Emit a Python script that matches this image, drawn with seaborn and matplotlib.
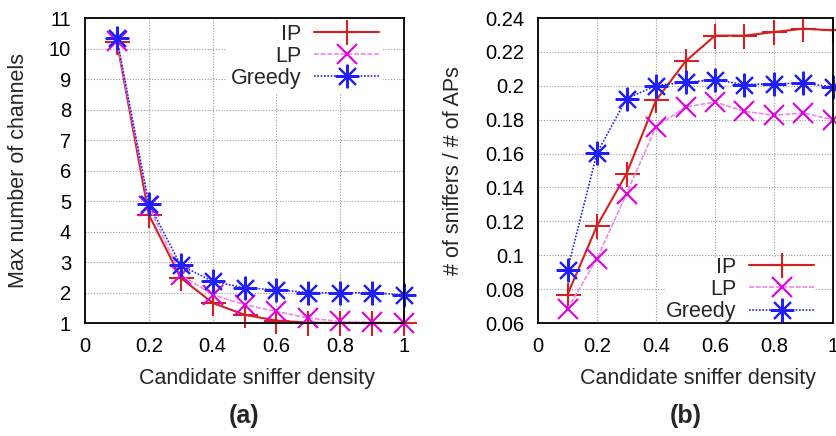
import numpy as np
import pandas as pd
import seaborn as sns
import matplotlib
matplotlib.use('Agg')
import matplotlib.pyplot as plt

# Candidate sniffer density
density = [0.1, 0.2, 0.3, 0.4, 0.5, 0.6, 0.7, 0.8, 0.9, 1.0]

# (a) max number of channels
chan_ip = [10.22, 4.55, 2.48, 1.66, 1.27, 1.08, 1.01, 1.0, 1.0, 1.0]
chan_lp = [10.25, 4.83, 2.58, 1.93, 1.6, 1.38, 1.16, 1.05, 1.02, 1.0]
chan_greedy = [10.33, 4.91, 2.89, 2.37, 2.15, 2.09, 2.0, 1.98, 2.0, 1.91]

# (b) # of sniffers / # of APs
ratio_ip = [0.0767, 0.1174, 0.1481, 0.1914, 0.2144, 0.2296, 0.2296, 0.2317, 0.2337, 0.2327]
ratio_lp = [0.0683, 0.0980, 0.1363, 0.1757, 0.1875, 0.1904, 0.1849, 0.1826, 0.1839, 0.1800]
ratio_greedy = [0.0915, 0.1603, 0.1924, 0.2001, 0.2020, 0.2036, 0.2007, 0.2012, 0.2016, 0.1993]

series_names = ['IP', 'LP', 'Greedy']

sns.set_theme(style='white')
plt.rcParams['font.family'] = ['Liberation Sans', 'DejaVu Sans']

# line look per series: colour, line style, marker, marker colour
styles = {
    'IP': dict(color='#d42020', ls='-', lw=1.5, marker='+', mec='#d42020', ms=18, mew=1.5),
    'LP': dict(color='#ee88ee', ls=(0, (3, 1)), lw=1.2, marker='x', mec='#e000e0', ms=15, mew=1.5),
    'Greedy': dict(color='#2020ff', ls=(0, (1, 1)), lw=1.2, marker=(8, 2, 0), mec='#2020ff', ms=17, mew=1.5),
}


def draw_panel(ax, values, ylim, yticks, yfmt, ylabel, ylabelpad, legend_loc, legend_anchor, legend_pad, tag):
    df = pd.DataFrame({'density': density})
    for name, vals in zip(series_names, values):
        df[name] = vals
    long = df.melt(id_vars='density', var_name='method', value_name='value')
    for name in series_names:
        st = styles[name]
        sub = long[long.method == name]
        sns.lineplot(data=sub, x='density', y='value', ax=ax, label=name,
                     color=st['color'], linestyle=st['ls'], linewidth=st['lw'],
                     marker=st['marker'], markersize=st['ms'], markeredgecolor=st['mec'],
                     markeredgewidth=st['mew'], markerfacecolor=st['mec'], clip_on=False)
    ax.set_xlim(0, 1)
    ax.set_ylim(*ylim)
    ax.set_xticks(np.linspace(0, 1, 6))
    ax.set_xticklabels(['0', '0.2', '0.4', '0.6', '0.8', '1'])
    ax.set_yticks(yticks)
    ax.set_yticklabels([yfmt(v) for v in yticks])
    ax.grid(True, color='#999999', linestyle=(0, (1, 1.5)), linewidth=0.8)
    for sp in ax.spines.values():
        sp.set_color('black')
        sp.set_linewidth(1.3)
    ax.tick_params(labelsize=14.5, length=0, pad=10, colors='black')
    ax.set_xlabel('Candidate sniffer density', fontsize=15.5, labelpad=9)
    ax.xaxis.label.set_x(0.5 + 12 / ax.bbox.width)
    ax.set_ylabel(ylabel, fontsize=15.5, labelpad=ylabelpad)
    leg = ax.legend(loc=legend_loc, bbox_to_anchor=legend_anchor, markerfirst=False,
                    fontsize=15.5, frameon=True, handlelength=3.0, borderaxespad=0,
                    labelspacing=0.05, handletextpad=0.6, borderpad=legend_pad)
    leg.get_frame().set_facecolor('white')
    leg.get_frame().set_edgecolor('none')
    leg.get_frame().set_alpha(1)
    ax.text(0.5, -0.305, tag, transform=ax.transAxes, ha='center', va='center',
            fontsize=18, fontweight='bold')


fig = plt.figure(figsize=(8.36, 4.36), dpi=100)
ax1 = fig.add_axes([85 / 836, 113 / 436, 319 / 836, 305 / 436])
ax2 = fig.add_axes([538 / 836, 113 / 436, 295 / 836, 305 / 436])

draw_panel(ax1, [chan_ip, chan_lp, chan_greedy], (1, 11), list(range(1, 12)),
           lambda v: f'{v:d}', 'Max number of channels', 14,
           'upper right', (0.935, 0.995), 0.2, '(a)')
draw_panel(ax2, [ratio_ip, ratio_lp, ratio_greedy], (0.06, 0.24),
           [0.06, 0.08, 0.1, 0.12, 0.14, 0.16, 0.18, 0.2, 0.22, 0.24],
           lambda v: f'{v:g}', '# of sniffers / # of APs', 15,
           'lower right', (0.935, 0.003), 0.0, '(b)')

fig.savefig('out.png', dpi=100)
